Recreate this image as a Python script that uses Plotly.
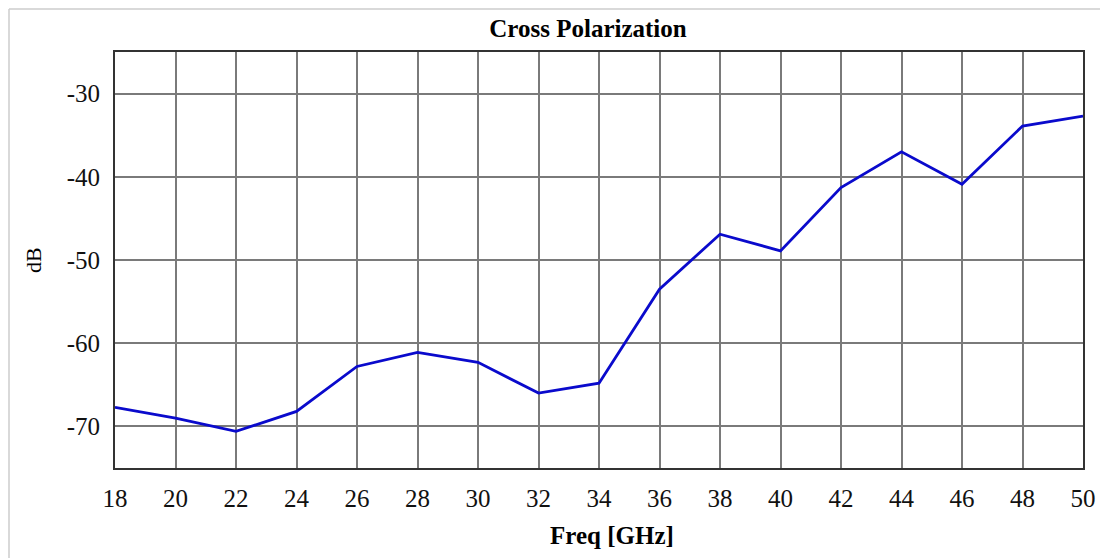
import plotly.graph_objects as go

freq_ghz = [18, 20, 22, 24, 26, 28, 30, 32, 34, 36, 38, 40, 42, 44, 46, 48, 50]
cross_pol_db = [-67.7, -69.0, -70.6, -68.2, -62.8, -61.1, -62.3, -66.0, -64.8,
                -53.5, -46.9, -48.9, -41.3, -37.0, -40.9, -33.9, -32.7]
x_ticks = list(range(18, 51, 2))
x_tick_labels = [str(v) for v in x_ticks]
y_ticks = [-70, -60, -50, -40, -30]
y_tick_labels = ["-70", "-60", "-50", "-40", "-30"]

W, H = 1100, 550
L, R, T, B = 107, 25, 44, 90
pw, ph = W - L - R, H - T - B

fig = go.Figure()
fig.add_trace(go.Scatter(x=freq_ghz, y=cross_pol_db, mode="lines",
                         line=dict(color="#0A0ACC", width=2.8), showlegend=False))

font_family = "Liberation Serif, Times New Roman, serif"
fig.update_layout(
    width=W, height=H,
    margin=dict(l=L, r=R, t=T, b=B),
    paper_bgcolor="white", plot_bgcolor="white",
    title=dict(text="<b>Cross Polarization</b>", x=580 / W, xanchor="center",
               y=1 - 20 / H, yanchor="middle",
               font=dict(family=font_family, size=25, color="black")),
    font=dict(family=font_family, color="black"),
)
fig.update_xaxes(range=[18, 50], tickvals=x_ticks, ticktext=x_tick_labels, ticks="",
                 showgrid=True, gridcolor="#7A7A7A", gridwidth=1.5, zeroline=False,
                 showline=True, linecolor="#333333", linewidth=2, mirror=True,
                 tickfont=dict(size=25, color="#111111"), ticklabelstandoff=7)
fig.update_yaxes(range=[-75, -25], tickvals=y_ticks, ticktext=y_tick_labels, ticks="",
                 showgrid=True, gridcolor="#7A7A7A", gridwidth=1.5, zeroline=False,
                 showline=True, linecolor="#333333", linewidth=2, mirror=True,
                 tickfont=dict(size=25, color="#111111"), ticklabelstandoff=8)
fig.add_annotation(text="<b>Freq [GHz]</b>", xref="paper", yref="paper",
                   x=(604 - L) / pw, y=-(527 - (H - B)) / ph, xanchor="center", yanchor="middle",
                   showarrow=False, font=dict(size=25))
fig.add_annotation(text="dB", xref="paper", yref="paper", textangle=-90,
                   x=(25 - L) / pw, y=0.5, xanchor="center", yanchor="middle",
                   showarrow=False, font=dict(size=22))
# light outer frame
fx = (1 - L) / pw
fy = 1 + (T - 1) / ph
fig.add_shape(type="line", xref="paper", yref="paper", x0=fx, x1=fx, y0=-0.3, y1=fy,
              line=dict(color="#CCCCCC", width=1.5))
fig.add_shape(type="line", xref="paper", yref="paper", x0=fx, x1=1.03, y0=fy, y1=fy,
              line=dict(color="#CCCCCC", width=1.5))

fig.write_html("out.html")
